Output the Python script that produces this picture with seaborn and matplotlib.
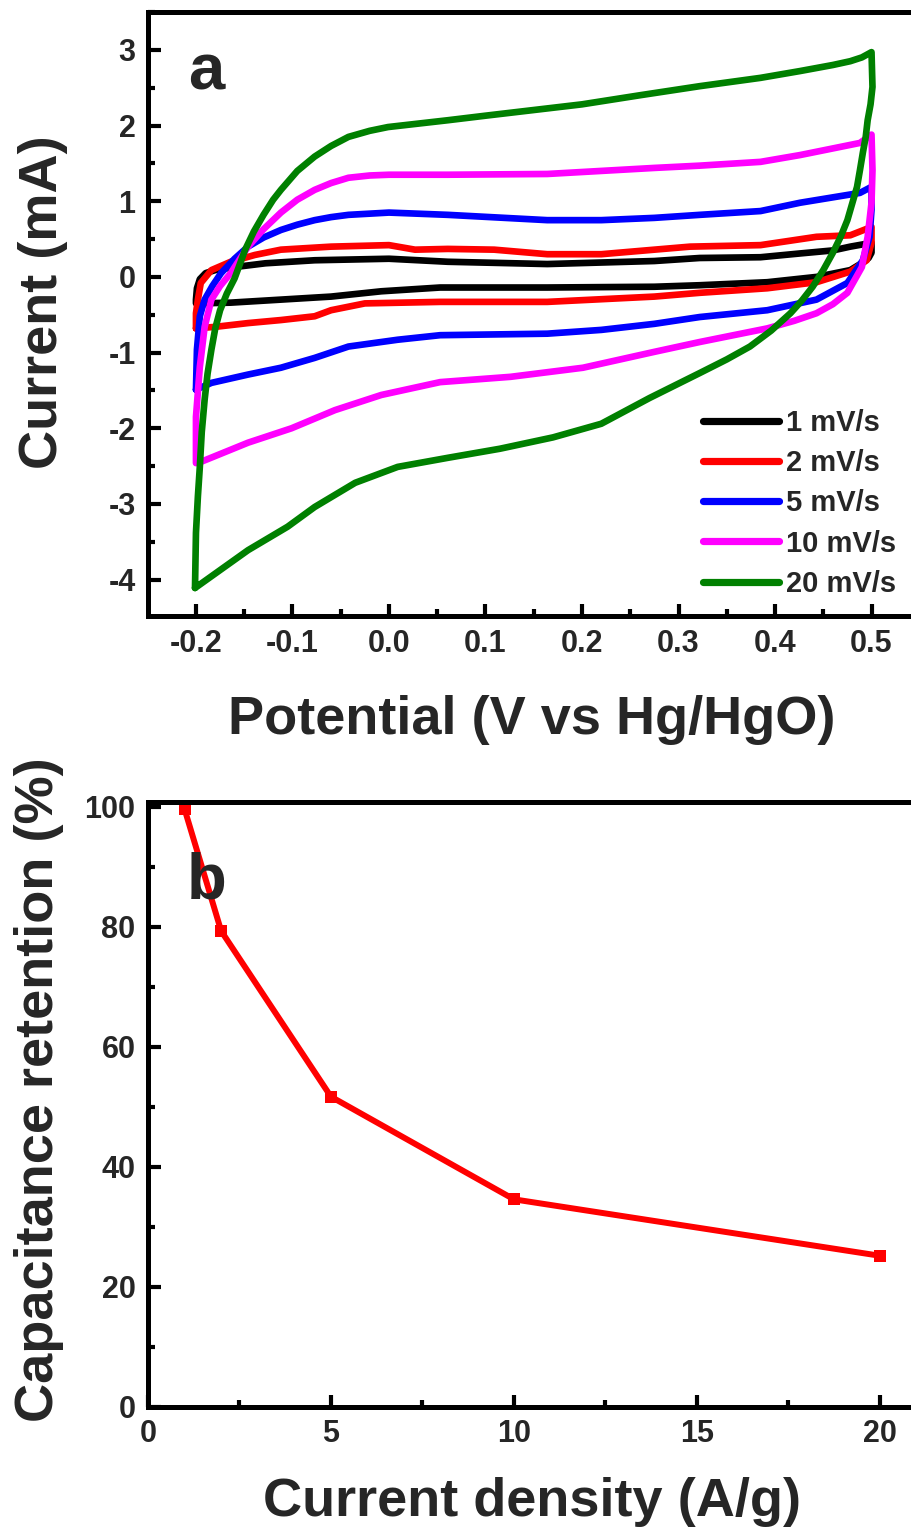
import pandas as pd
import numpy as np
import seaborn as sns
import matplotlib.pyplot as plt
from matplotlib.ticker import MultipleLocator, FormatStrFormatter

#%%
# CV loops (forward branch then reverse branch)
rates = ['1 mV/s', '2 mV/s', '5 mV/s', '10 mV/s', '20 mV/s']
colors = ['#000000', '#ff0000', '#0000ff', '#ff00ff', '#008000']

v_1 = [-0.200, -0.200, -0.199, -0.196, -0.190, -0.180, -0.160, -0.128, -0.077, 0.000, 0.061, 0.164, 0.275, 0.322, 0.385, 0.426, 0.460, 0.478, 0.500,
       0.500, 0.497, 0.491, 0.478, 0.443, 0.392, 0.322, 0.275, 0.164, 0.053, -0.008, -0.060, -0.112, -0.164, -0.198]
i_1 = [-0.35, -0.30, -0.15, -0.03, 0.05, 0.09, 0.13, 0.18, 0.22, 0.24, 0.20, 0.17, 0.21, 0.25, 0.26, 0.31, 0.35, 0.40, 0.45,
       0.32, 0.25, 0.19, 0.09, 0.00, -0.07, -0.11, -0.13, -0.14, -0.14, -0.19, -0.26, -0.30, -0.34, -0.35]

v_2 = [-0.200, -0.200, -0.198, -0.195, -0.184, -0.164, -0.139, -0.112, -0.060, 0.000, 0.027, 0.061, 0.109, 0.164, 0.220, 0.275, 0.312, 0.385, 0.443, 0.478, 0.500,
       0.500, 0.495, 0.478, 0.443, 0.392, 0.322, 0.275, 0.164, 0.053, -0.025, -0.060, -0.077, -0.112, -0.146, -0.180, -0.200]
i_2 = [-0.68, -0.48, -0.30, -0.08, 0.09, 0.20, 0.29, 0.36, 0.40, 0.42, 0.36, 0.37, 0.36, 0.30, 0.30, 0.36, 0.40, 0.42, 0.53, 0.55, 0.66,
       0.45, 0.22, 0.07, -0.07, -0.15, -0.21, -0.26, -0.33, -0.33, -0.35, -0.44, -0.52, -0.57, -0.61, -0.66, -0.68]

v_5 = [-0.200, -0.199, -0.196, -0.191, -0.183, -0.174, -0.160, -0.146, -0.130, -0.112, -0.095, -0.077, -0.060, -0.042, 0.000, 0.061, 0.164, 0.220, 0.275, 0.322, 0.385, 0.426, 0.488, 0.500,
       0.500, 0.498, 0.491, 0.475, 0.443, 0.392, 0.322, 0.275, 0.220, 0.164, 0.053, 0.009, -0.042, -0.077, -0.112, -0.146, -0.184, -0.200]
i_5 = [-1.49, -0.96, -0.52, -0.30, -0.12, 0.05, 0.24, 0.40, 0.52, 0.62, 0.69, 0.75, 0.79, 0.82, 0.85, 0.82, 0.75, 0.75, 0.78, 0.82, 0.87, 0.98, 1.11, 1.19,
       0.89, 0.53, 0.22, -0.08, -0.30, -0.44, -0.53, -0.62, -0.70, -0.75, -0.77, -0.83, -0.92, -1.07, -1.20, -1.29, -1.40, -1.49]

v_10 = [-0.200, -0.200, -0.196, -0.191, -0.184, -0.175, -0.164, -0.146, -0.130, -0.112, -0.095, -0.077, -0.060, -0.042, -0.020, 0.000, 0.061, 0.164, 0.275, 0.322, 0.385, 0.426, 0.488, 0.500,
        0.501, 0.500, 0.496, 0.490, 0.475, 0.460, 0.443, 0.420, 0.392, 0.322, 0.275, 0.201, 0.126, 0.053, -0.008, -0.056, -0.101, -0.146, -0.198]
i_10 = [-2.46, -1.85, -1.19, -0.66, -0.30, -0.12, 0.05, 0.40, 0.63, 0.85, 1.02, 1.15, 1.24, 1.31, 1.34, 1.35, 1.35, 1.36, 1.44, 1.47, 1.52, 1.61, 1.77, 1.88,
        1.41, 0.98, 0.53, 0.13, -0.21, -0.36, -0.48, -0.58, -0.68, -0.86, -0.99, -1.20, -1.32, -1.39, -1.56, -1.76, -2.00, -2.19, -2.46]

v_20 = [-0.201, -0.200, -0.198, -0.196, -0.194, -0.191, -0.188, -0.184, -0.180, -0.175, -0.168, -0.160, -0.149, -0.140, -0.130, -0.120, -0.112, -0.095, -0.077, -0.060, -0.042, -0.020, -0.001, 0.061, 0.100, 0.200, 0.260, 0.322, 0.385, 0.426, 0.460, 0.478, 0.490, 0.500,
        0.501, 0.499, 0.496, 0.494, 0.491, 0.488, 0.485, 0.480, 0.475, 0.468, 0.460, 0.450, 0.439, 0.428, 0.416, 0.396, 0.374, 0.350, 0.322, 0.270, 0.220, 0.170, 0.115, 0.061, 0.009, -0.035, -0.077, -0.105, -0.146, -0.201]
i_20 = [-4.11, -3.38, -2.90, -2.51, -2.05, -1.62, -1.28, -0.96, -0.68, -0.44, -0.22, -0.02, 0.36, 0.60, 0.82, 1.02, 1.15, 1.40, 1.59, 1.73, 1.85, 1.93, 1.98, 2.07, 2.13, 2.28, 2.40, 2.52, 2.63, 2.72, 2.80, 2.85, 2.90, 2.97,
        2.51, 2.28, 2.07, 1.85, 1.64, 1.41, 1.19, 0.97, 0.75, 0.53, 0.32, 0.09, -0.13, -0.31, -0.48, -0.71, -0.92, -1.09, -1.27, -1.60, -1.94, -2.12, -2.27, -2.39, -2.51, -2.72, -3.04, -3.30, -3.61, -4.11]

# capacitance retention
density = [1, 2, 5, 10, 20]
retention = [99.6, 79.3, 51.7, 34.6, 25.2]

#%%
loops = [(v_1, i_1), (v_2, i_2), (v_5, i_5), (v_10, i_10), (v_20, i_20)]
frames = []
for rate, (v, i) in zip(rates, loops):
    frames.append(pd.DataFrame({'rate': rate, 'V': v, 'I': i}))
cv = pd.concat(frames, ignore_index=True)
ret = pd.DataFrame({'density': density, 'retention': retention})

#%%
sns.set_style('ticks')
plt.rcParams['font.family'] = ['Liberation Sans', 'DejaVu Sans']
plt.rcParams['font.weight'] = 'bold'
plt.rcParams['axes.labelweight'] = 'bold'
plt.rcParams['axes.unicode_minus'] = False

W, H = 912, 1533
fig = plt.figure(figsize=(W / 100, H / 100), dpi=100)
ax1 = fig.add_axes([148 / W, 1 - 616 / H, 782 / W, 604 / H])
ax2 = fig.add_axes([148 / W, 1 - 1407 / H, 782 / W, 605 / H])


def style(ax):
    for s in ['top', 'bottom', 'left']:
        ax.spines[s].set_linewidth(3.6)
        ax.spines[s].set_color('black')
    ax.spines['right'].set_visible(False)
    ax.tick_params(which='both', direction='in', width=3, top=False, right=False,
                   labelsize=22, pad=9, color='black')
    ax.tick_params(which='major', length=9)
    ax.tick_params(which='minor', length=5)


#%%
# a: CV curves
sns.lineplot(data=cv, x='V', y='I', hue='rate', hue_order=rates, palette=colors,
             sort=False, estimator=None, linewidth=4.8, ax=ax1)
for ln in ax1.lines:
    ln.set_solid_joinstyle('round')
ax1.set_xlim(-0.2497, 0.5606)
ax1.set_ylim(-4.48, 3.50)
ax1.xaxis.set_major_locator(MultipleLocator(0.1))
ax1.xaxis.set_minor_locator(MultipleLocator(0.05))
ax1.xaxis.set_major_formatter(FormatStrFormatter('%.1f'))
ax1.yaxis.set_major_locator(MultipleLocator(1))
ax1.yaxis.set_minor_locator(MultipleLocator(0.5))
style(ax1)
ax1.set_xlabel('Potential (V vs Hg/HgO)', fontsize=39)
ax1.set_ylabel('Current (mA)', fontsize=39)
ax1.xaxis.set_label_coords(0.491, -0.13)
ax1.yaxis.set_label_coords(-0.102, 0.52)
ax1.text(0.051, 0.871, 'a', transform=ax1.transAxes, fontsize=47, fontweight='bold',
         ha='left', va='baseline')

handles, labels = ax1.get_legend_handles_labels()
for h in handles:
    h.set_linewidth(5.2)
ax1.legend(handles, labels, loc='lower left', bbox_to_anchor=(0.71, 0.03),
           frameon=False, fontsize=21, handlelength=2.6, handletextpad=0.25,
           labelspacing=0.42, borderpad=0, borderaxespad=0)

#%%
# b: retention
sns.lineplot(data=ret, x='density', y='retention', color='#ff0000', linewidth=4.3,
             marker='s', markersize=9, markeredgewidth=0, ax=ax2)
ax2.set_xlim(0, 21.37)
ax2.set_ylim(0, 100.8)
ax2.xaxis.set_major_locator(MultipleLocator(5))
ax2.xaxis.set_minor_locator(MultipleLocator(2.5))
ax2.yaxis.set_major_locator(MultipleLocator(20))
ax2.yaxis.set_minor_locator(MultipleLocator(10))
style(ax2)
ax2.set_xlabel('Current density (A/g)', fontsize=39)
ax2.set_ylabel('Capacitance retention (%)', fontsize=39)
ax2.xaxis.set_label_coords(0.491, -0.115)
ax2.yaxis.set_label_coords(-0.107, 0.524)
ax2.text(0.05, 0.841, 'b', transform=ax2.transAxes, fontsize=47, fontweight='bold',
         ha='left', va='baseline')

plt.savefig('out.png', dpi=100)
